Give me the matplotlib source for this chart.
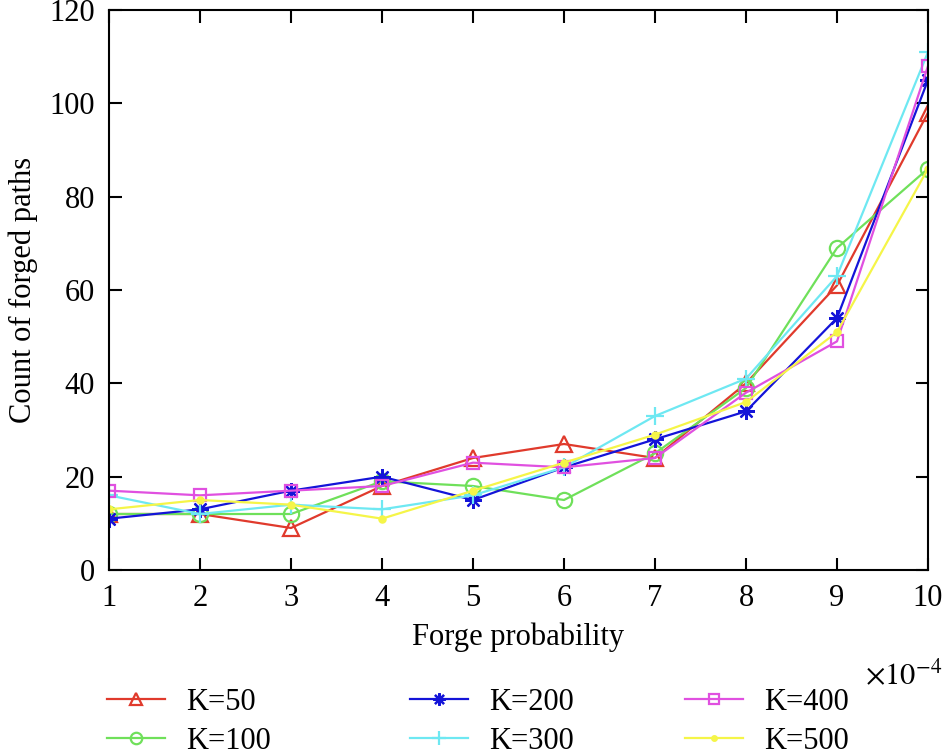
import matplotlib
matplotlib.use("Agg")
import matplotlib.pyplot as plt
import numpy as np

plt.rcParams["font.family"] = ["Liberation Serif", "DejaVu Serif"]
plt.rcParams["mathtext.fontset"] = "stix"

x = [1, 2, 3, 4, 5, 6, 7, 8, 9, 10]
k50 = [12, 12, 9, 18, 24, 27, 24, 40, 61, 98]
k100 = [12, 12, 12, 19, 18, 15, 25, 39, 69, 86]
k200 = [11, 13, 17, 20, 15, 22, 28, 34, 54, 105]
k300 = [16, 12, 14, 13, 16, 22, 33, 41, 63, 111]
k400 = [17, 16, 17, 18, 23, 22, 24, 38, 49, 108]
k500 = [13, 15, 14, 11, 17, 23, 29, 36, 51, 86]

series = [
    ("K=50", k50, "#e03a2c", "^", 11, "none"),
    ("K=100", k100, "#6fe05a", "o", 11, "none"),
    ("K=200", k200, "#1414d8", (8, 2, 0), 12, None),
    ("K=300", k300, "#6ee8f2", "+", 13, None),
    ("K=400", k400, "#e050e0", "s", 9, "none"),
    ("K=500", k500, "#f5f548", ".", 9, None),
]

FS = 22

fig = plt.figure(figsize=(9.49, 7.56), dpi=100)
ax = fig.add_axes([109 / 949, 1 - 570 / 756, (928 - 109) / 949, (570 - 10) / 756])

lines = []
for label, vals, color, marker, ms, mfc in series:
    kw = dict(color=color, marker=marker, markersize=ms, linewidth=1.6,
              markeredgewidth=1.6, label=label)
    if mfc is not None:
        kw["markerfacecolor"] = mfc
    lines += ax.plot(x, vals, **kw)

ax.set_xlim(1, 10)
ax.set_ylim(0, 120)
ax.set_xticks(x)
ax.set_yticks(np.arange(0, 121, 20))
ax.tick_params(direction="in", length=9, width=1.5, labelsize=FS,
               top=True, right=True, pad=10)
for s in ax.spines.values():
    s.set_linewidth(1.5)
ax.set_xlabel("Forge probability", fontsize=FS, labelpad=7)
ax.set_ylabel("Count of forged paths", fontsize=FS, labelpad=8)
fig.text(942 / 949, 1 - 676 / 756, r"$\times10^{-4}$", fontsize=FS,
         ha="right", va="center")

# legend: three columns placed where the reference has them
col_x = [107, 410, 685]
for i, cx in enumerate(col_x):
    pair = lines[2 * i:2 * i + 2]
    leg = fig.legend(pair, [l.get_label() for l in pair], loc="center left",
                     bbox_to_anchor=(cx / 949, 1 - 722 / 756), frameon=False,
                     fontsize=FS, handlelength=1.9, handletextpad=0.7,
                     labelspacing=0.32, borderaxespad=0, borderpad=0,
                     markerscale=0.75)

fig.savefig("out.png", dpi=100)
